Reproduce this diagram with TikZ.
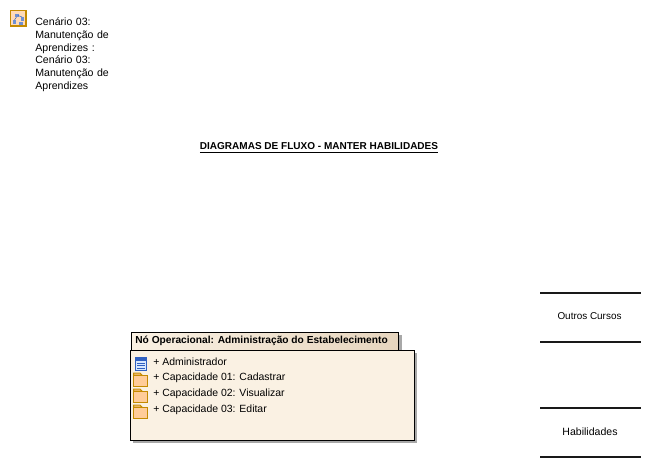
\documentclass[tikz,border=0pt]{standalone}
\usepackage{fontspec}
\usepackage{xcolor}
\setmainfont{Liberation Sans}
\definecolor{EANode}{HTML}{FAF1E3}
\definecolor{EATab}{HTML}{E6D5BE}
\definecolor{EAShadow}{HTML}{A8A8A8}
\definecolor{EAFolder}{HTML}{FFCC99}
\definecolor{EAFolderLine}{HTML}{C48A00}
\definecolor{EAClass}{HTML}{3060C0}
\definecolor{EAClassFill}{HTML}{D8E8FF}
\tikzset{
  eatext/.style={anchor=west,inner sep=0pt,font=\fontsize{5.95}{7.37}\selectfont},
  eabold/.style={eatext,font=\fontsize{5.8}{7.37}\selectfont\bfseries},
  eastore/.style={eatext,anchor=center,font=\fontsize{5.8}{7.37}\selectfont},
  storeline/.style={line width=0.04cm,black!90},
  folderline/.style={draw=EAFolderLine,fill=EAFolder,line width=0.02cm}
}
\begin{document}
\begin{tikzpicture}[x=1cm,y=1cm]
\path[use as bounding box] (0,0) rectangle (13.00,9.34);
\fill[white] (0,0) rectangle (13.00,9.34);
% scenario icon
\fill[EAFolder!70] (0.21,9.13) rectangle (0.52,8.82);
\draw[EAFolderLine,line width=0.03cm] (0.21,9.13) rectangle (0.52,8.82);
\fill[EAClass!70] (0.30,9.07) rectangle (0.37,9.00);
\fill[EAClass!70] (0.25,8.94) rectangle (0.32,8.87);
\fill[EAClass!70] (0.41,9.00) rectangle (0.48,8.93);
\fill[EAClass!70] (0.38,8.90) rectangle (0.45,8.84);
\draw[EAClass,line width=0.01cm] (0.33,9.00) -- (0.29,8.94);
\draw[EAClass,line width=0.01cm] (0.36,9.03) -- (0.44,9.00);
\node[eatext,anchor=north west,align=left,text width=1.80cm,font=\fontsize{6.02}{7.37}\selectfont] (scenario) at (0.70,9.00)
  {Cenário 03:\\Manutenção de\\Aprendizes :\\Cenário 03:\\Manutenção de\\Aprendizes};
% title
\node[eabold,anchor=center,font=\fontsize{5.7}{7.37}\selectfont\bfseries] (title) at (6.38,6.38) {\underline{DIAGRAMAS DE FLUXO - MANTER HABILIDADES}};
% operational node
\fill[EAShadow] (2.68,2.30) rectangle (8.04,2.64);
\shade[left color=EANode,right color=EATab] (2.62,2.34) rectangle (7.97,2.70);
\draw[black,line width=0.02cm] (2.62,2.34) -- (2.62,2.70) -- (7.97,2.70) -- (7.97,2.34);
\fill[EAShadow] (2.66,0.48) rectangle (8.34,2.28);
\fill[EANode,draw=black,line width=0.02cm] (2.60,0.54) rectangle (8.28,2.34);
\node[eabold] (noname) at (2.70,2.53) {Nó Operacional: Administração do Estabelecimento};
\node[eatext] (ator) at (3.06,2.11) {+ Administrador};
\node[eatext] (cap1) at (3.06,1.78) {+ Capacidade 01: Cadastrar};
\node[eatext] (cap2) at (3.06,1.46) {+ Capacidade 02: Visualizar};
\node[eatext] (cap3) at (3.06,1.14) {+ Capacidade 03: Editar};
% class icon
\fill[EAClassFill,draw=EAClass,line width=0.02cm] (2.71,2.20) rectangle (2.93,1.94);
\fill[EAClass] (2.71,2.20) rectangle (2.93,2.13);
\foreach \yy in {2.08,2.03,1.98} {
  \draw[EAClass,line width=0.01cm] (2.74,\yy) -- (2.90,\yy);
}
% folders
\foreach \yy in {1.79,1.47,1.15} {
  \draw[folderline] (2.67,\yy+0.05) -- (2.67,\yy+0.09) -- (2.80,\yy+0.09) -- (2.84,\yy+0.05) -- cycle;
  \draw[folderline] (2.67,\yy-0.17) rectangle (2.94,\yy+0.05);
}
% data stores
\draw[storeline] (10.80,3.49) -- (12.82,3.49);
\draw[storeline] (10.80,2.50) -- (12.82,2.50);
\node[eastore,font=\fontsize{5.65}{7.37}\selectfont] (outros) at (11.79,3.01) {Outros Cursos};
\draw[storeline] (10.80,1.19) -- (12.82,1.19);
\draw[storeline] (10.80,0.20) -- (12.82,0.20);
\node[eastore,font=\fontsize{6}{7.37}\selectfont] (habil) at (11.80,0.71) {Habilidades};
\end{tikzpicture}
\end{document}
